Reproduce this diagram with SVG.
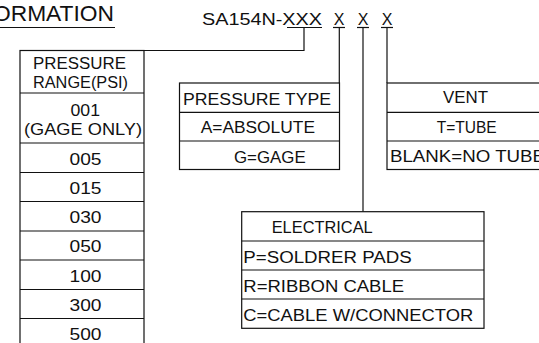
<svg xmlns="http://www.w3.org/2000/svg" width="539" height="343" viewBox="0 0 539 343" xml:space="preserve">
<style>
  text { font-family: "Liberation Sans", Arial, sans-serif; font-size: 16px; fill: #111; }
  .t { font-size: 22px; }
  .ln { stroke: #111; stroke-width: 1.2; fill: none; }
  .box { stroke: #111; stroke-width: 1.2; fill: #fff; }
</style>
<rect width="539" height="343" fill="#fff"/>

<g id="title">
  <text class="t" x="-7" y="21" textLength="121" lengthAdjust="spacingAndGlyphs">ORMATION</text>
  <line class="ln" x1="0" y1="27.5" x2="115" y2="27.5"/>
</g>

<g id="part-number">
  <text x="202" y="25" textLength="120" lengthAdjust="spacingAndGlyphs">SA154N-XXX</text>
  <text x="339" y="25" text-anchor="middle">X</text>
  <text x="363" y="25" text-anchor="middle">X</text>
  <text x="387" y="25" text-anchor="middle">X</text>
  <line class="ln" x1="287" y1="27.5" x2="322" y2="27.5"/>
  <line class="ln" x1="333" y1="27.5" x2="345" y2="27.5"/>
  <line class="ln" x1="357" y1="27.5" x2="369" y2="27.5"/>
  <line class="ln" x1="381" y1="27.5" x2="393" y2="27.5"/>
</g>

<g id="connectors">
  <polyline class="ln" points="144,50.5 304,50.5 304,27.5"/>
  <line class="ln" x1="339.3" y1="27.5" x2="339.3" y2="83"/>
  <line class="ln" x1="363" y1="27.5" x2="363" y2="211.7"/>
  <line class="ln" x1="387" y1="27.5" x2="387" y2="83"/>
</g>

<g id="pressure-range">
  <rect class="box" x="20" y="50.5" width="124" height="300"/>
  <line class="ln" x1="20" y1="93" x2="144" y2="93"/>
  <line class="ln" x1="20" y1="143" x2="144" y2="143"/>
  <line class="ln" x1="20" y1="172.5" x2="144" y2="172.5"/>
  <line class="ln" x1="20" y1="201.5" x2="144" y2="201.5"/>
  <line class="ln" x1="20" y1="231" x2="144" y2="231"/>
  <line class="ln" x1="20" y1="260" x2="144" y2="260"/>
  <line class="ln" x1="20" y1="289.5" x2="144" y2="289.5"/>
  <line class="ln" x1="20" y1="318.5" x2="144" y2="318.5"/>
  <text x="33" y="69" textLength="93" lengthAdjust="spacingAndGlyphs">PRESSURE</text>
  <text x="33" y="88" textLength="95" lengthAdjust="spacingAndGlyphs">RANGE(PSI)</text>
  <text x="70.5" y="116" textLength="29.5" lengthAdjust="spacingAndGlyphs">001</text>
  <text x="24" y="135" textLength="118" lengthAdjust="spacingAndGlyphs">(GAGE  ONLY)</text>
  <text x="69.5" y="165" textLength="32" lengthAdjust="spacingAndGlyphs">005</text>
  <text x="69.5" y="194" textLength="32" lengthAdjust="spacingAndGlyphs">015</text>
  <text x="69.5" y="223.3" textLength="32" lengthAdjust="spacingAndGlyphs">030</text>
  <text x="69.5" y="252.3" textLength="32" lengthAdjust="spacingAndGlyphs">050</text>
  <text x="69.5" y="281.7" textLength="32" lengthAdjust="spacingAndGlyphs">100</text>
  <text x="69.5" y="310.7" textLength="32" lengthAdjust="spacingAndGlyphs">300</text>
  <text x="69.5" y="340" textLength="32" lengthAdjust="spacingAndGlyphs">500</text>
</g>

<g id="pressure-type">
  <rect class="box" x="179.5" y="83" width="160" height="86.5"/>
  <line class="ln" x1="179.5" y1="112.3" x2="339.5" y2="112.3"/>
  <line class="ln" x1="179.5" y1="141" x2="339.5" y2="141"/>
  <text x="183" y="105" textLength="148" lengthAdjust="spacingAndGlyphs">PRESSURE  TYPE</text>
  <text x="200.7" y="133.3" textLength="114.3" lengthAdjust="spacingAndGlyphs">A=ABSOLUTE</text>
  <text x="234" y="162.5" textLength="71.7" lengthAdjust="spacingAndGlyphs">G=GAGE</text>
</g>

<g id="vent">
  <rect class="box" x="387" y="83" width="170" height="86.5"/>
  <line class="ln" x1="387" y1="112.3" x2="557" y2="112.3"/>
  <line class="ln" x1="387" y1="141" x2="557" y2="141"/>
  <text x="443" y="103.3" textLength="45" lengthAdjust="spacingAndGlyphs">VENT</text>
  <text x="436.7" y="133.3" textLength="60" lengthAdjust="spacingAndGlyphs">T=TUBE</text>
  <text x="390" y="161.7" textLength="155" lengthAdjust="spacingAndGlyphs">BLANK=NO  TUBE</text>
</g>

<g id="electrical">
  <rect class="box" x="241.7" y="211.7" width="242.3" height="116.6"/>
  <line class="ln" x1="241.7" y1="241" x2="484" y2="241"/>
  <line class="ln" x1="241.7" y1="270" x2="484" y2="270"/>
  <line class="ln" x1="241.7" y1="299" x2="484" y2="299"/>
  <text x="271.7" y="233.3" textLength="101" lengthAdjust="spacingAndGlyphs">ELECTRICAL</text>
  <text x="243.3" y="262.7" textLength="168.4" lengthAdjust="spacingAndGlyphs">P=SOLDRER  PADS</text>
  <text x="243.3" y="291.7" textLength="160.7" lengthAdjust="spacingAndGlyphs">R=RIBBON  CABLE</text>
  <text x="243.3" y="320.5" textLength="230" lengthAdjust="spacingAndGlyphs">C=CABLE  W/CONNECTOR</text>
</g>
</svg>
